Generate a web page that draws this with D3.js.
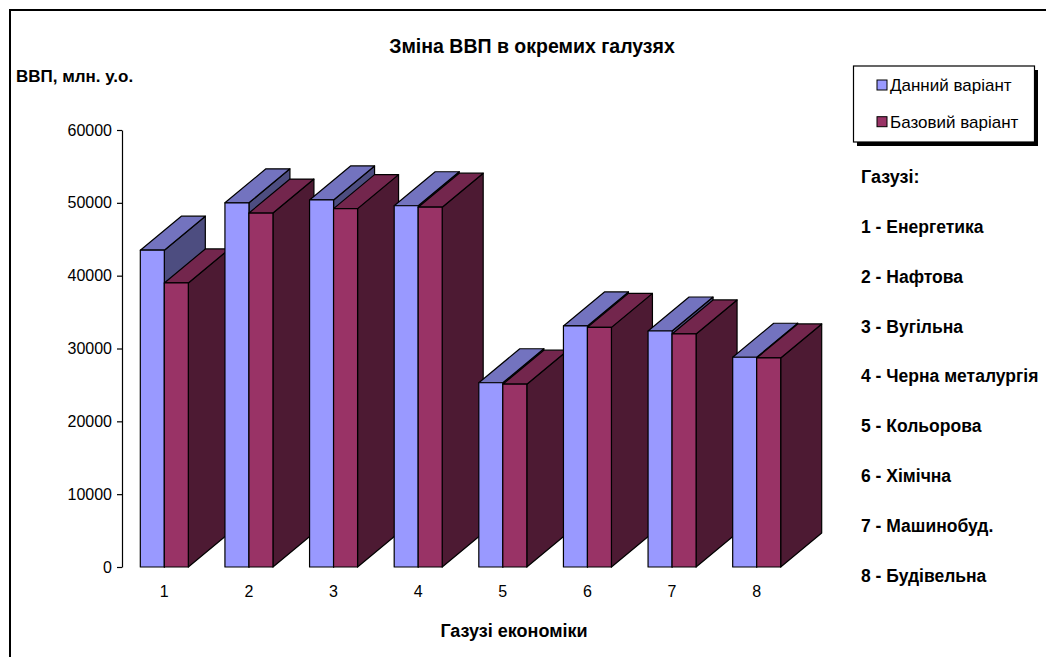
<!DOCTYPE html>
<html>
<head>
<meta charset="utf-8">
<script src="https://cdn.jsdelivr.net/npm/d3@7"></script>
<style>
  body { margin: 0; background: #fff; }
  svg { display: block; font-family: Arial, "Liberation Sans", sans-serif; }
</style>
</head>
<body>
<svg id="chart" width="1046" height="657"></svg>
<script>
// data
const categories = ["1", "2", "3", "4", "5", "6", "7", "8"];
const seriesNames = ["Данний варіант", "Базовий варіант"];
const current = [43500, 50000, 50400, 49600, 25300, 33100, 32400, 28800];
const base = [39000, 48600, 49200, 49400, 25100, 32900, 32000, 28700];
const yTicks = [0, 10000, 20000, 30000, 40000, 50000, 60000];
const branches = ["1 - Енергетика", "2 - Нафтова", "3 - Вугільна", "4 - Черна металургія",
  "5 - Кольорова", "6 - Хімічна", "7 - Машинобуд.", "8 - Будівельна"];

// front / top / side shades for each series
const colors = [
  { front: "#9999ff", top: "#7373bf", side: "#4d4d80" },
  { front: "#993366", top: "#73264d", side: "#4d1a33" }
];

const svg = d3.select("#chart");
const depthX = 41, depthY = 34;

const x = d3.scaleBand().domain(categories).range([122, 799]);
const x1 = d3.scaleBand().domain(d3.range(seriesNames.length)).range([0, 48]);
const y = d3.scaleLinear().domain([0, 60000]).range([567, 130]);

// frame
svg.append("path")
    .attr("d", "M10,660 L10,10 L1050,10")
    .attr("fill", "none")
    .attr("stroke", "#000")
    .attr("stroke-width", 2);

svg.append("text")
    .attr("x", 532).attr("y", 53)
    .attr("text-anchor", "middle")
    .attr("font-weight", "bold")
    .attr("font-size", 19.5)
    .text("Зміна ВВП в окремих галузях");

svg.append("text")
    .attr("x", 16).attr("y", 82)
    .attr("font-weight", "bold")
    .attr("font-size", 17)
    .text("ВВП, млн. у.о.");

// y axis
const yAxis = svg.append("g")
    .attr("transform", "translate(122,0)")
    .call(d3.axisLeft(y).tickValues(yTicks).tickFormat(d3.format("d")).tickSize(5).tickSizeOuter(0).tickPadding(5));
yAxis.select(".domain").attr("stroke", "#000").attr("stroke-width", 1.2);
yAxis.selectAll("line").attr("stroke", "#000").attr("stroke-width", 1.2);
yAxis.selectAll("text").attr("font-size", 16).attr("fill", "#000").attr("font-family", null);

// bars, left to right so later faces cover earlier side faces
const values = [current, base];
const bars = [];
categories.forEach((c, i) => {
  values.forEach((vals, j) => {
    bars.push({ cat: c, s: j, v: vals[i] });
  });
});

const bw = x1.bandwidth();
const g = svg.append("g").attr("stroke", "#000").attr("stroke-width", 1.2).attr("stroke-linejoin", "round");
bars.forEach(d => {
  const x0 = x(d.cat) + x.bandwidth() / 2 - 24 + x1(d.s);
  const t = y(d.v), b = y(0);
  const col = colors[d.s];
  const bar = g.append("g");
  bar.append("path")
      .attr("fill", col.side)
      .attr("d", `M${x0 + bw},${t} L${x0 + bw + depthX},${t - depthY} L${x0 + bw + depthX},${b - depthY} L${x0 + bw},${b} Z`);
  bar.append("path")
      .attr("fill", col.top)
      .attr("d", `M${x0},${t} L${x0 + bw},${t} L${x0 + bw + depthX},${t - depthY} L${x0 + depthX},${t - depthY} Z`);
  bar.append("rect")
      .attr("x", x0).attr("y", t)
      .attr("width", bw).attr("height", b - t)
      .attr("fill", col.front);
});

// x axis: labels only
const xAxis = svg.append("g")
    .attr("transform", "translate(0,567)")
    .call(d3.axisBottom(x).tickSize(0).tickPadding(19));
xAxis.select(".domain").remove();
xAxis.selectAll("text").attr("font-size", 16).attr("fill", "#000").attr("font-family", null);

svg.append("text")
    .attr("x", 514).attr("y", 637)
    .attr("text-anchor", "middle")
    .attr("font-weight", "bold")
    .attr("font-size", 18)
    .text("Газузі економіки");

// legend
const legend = svg.append("g");
legend.append("rect")
    .attr("x", 857).attr("y", 70).attr("width", 181).attr("height", 76)
    .attr("fill", "#000");
legend.append("rect")
    .attr("x", 853.5).attr("y", 66).attr("width", 181).attr("height", 76)
    .attr("fill", "#fff").attr("stroke", "#000").attr("stroke-width", 1.2);
seriesNames.forEach((name, j) => {
  const cy = 85 + j * 36.7;
  legend.append("rect")
      .attr("x", 877).attr("y", cy - 5).attr("width", 10).attr("height", 10)
      .attr("fill", colors[j].front).attr("stroke", "#000").attr("stroke-width", 1);
  legend.append("text")
      .attr("x", 890).attr("y", cy + 6)
      .attr("font-size", 17)
      .text(name);
});

svg.append("text")
    .attr("x", 861).attr("y", 183)
    .attr("font-weight", "bold")
    .attr("font-size", 18)
    .text("Газузі:");

svg.append("g").selectAll("text")
  .data(branches)
  .join("text")
    .attr("x", 861)
    .attr("y", (d, i) => 233 + i * 49.8)
    .attr("font-weight", "bold")
    .attr("font-size", 17.5)
    .text(d => d);
</script>
</body>
</html>
